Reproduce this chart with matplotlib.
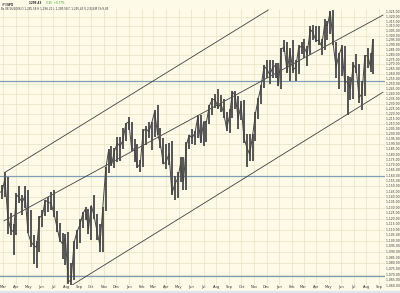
import matplotlib
matplotlib.use('Agg')
import matplotlib.pyplot as plt
import matplotlib.ticker as mticker
import numpy as np
import pandas as pd

# weekly bars (week ending, high, low, close)
weeks = ['2004-02-20', '2004-02-27', '2004-03-05', '2004-03-12', '2004-03-19', '2004-03-26',
         '2004-04-02', '2004-04-09', '2004-04-16', '2004-04-23', '2004-04-30', '2004-05-07',
         '2004-05-14', '2004-05-21', '2004-05-28', '2004-06-04', '2004-06-11', '2004-06-18',
         '2004-06-25', '2004-07-02', '2004-07-09', '2004-07-16', '2004-07-23', '2004-07-30',
         '2004-08-06', '2004-08-13', '2004-08-20', '2004-08-27', '2004-09-03', '2004-09-10',
         '2004-09-17', '2004-09-24', '2004-10-01', '2004-10-08', '2004-10-15', '2004-10-22',
         '2004-10-29', '2004-11-05', '2004-11-12', '2004-11-19', '2004-11-26', '2004-12-03',
         '2004-12-10', '2004-12-17', '2004-12-24', '2004-12-31',
         '2005-01-07', '2005-01-14', '2005-01-21', '2005-01-28', '2005-02-04', '2005-02-11',
         '2005-02-18', '2005-02-25', '2005-03-04', '2005-03-11', '2005-03-18', '2005-03-25',
         '2005-04-01', '2005-04-08', '2005-04-15', '2005-04-22', '2005-04-29', '2005-05-06',
         '2005-05-13', '2005-05-20', '2005-05-27', '2005-06-03', '2005-06-10', '2005-06-17',
         '2005-06-24', '2005-07-01', '2005-07-08', '2005-07-15', '2005-07-22', '2005-07-29',
         '2005-08-05', '2005-08-12', '2005-08-19', '2005-08-26', '2005-09-02', '2005-09-09',
         '2005-09-16', '2005-09-23', '2005-09-30', '2005-10-07', '2005-10-14', '2005-10-21',
         '2005-10-28', '2005-11-04', '2005-11-11', '2005-11-18', '2005-11-25', '2005-12-02',
         '2005-12-09', '2005-12-16', '2005-12-23', '2005-12-30',
         '2006-01-06', '2006-01-13', '2006-01-20', '2006-01-27', '2006-02-03', '2006-02-10',
         '2006-02-17', '2006-02-24', '2006-03-03', '2006-03-10', '2006-03-17', '2006-03-24',
         '2006-03-31', '2006-04-07', '2006-04-14', '2006-04-21', '2006-04-28', '2006-05-05',
         '2006-05-12', '2006-05-19', '2006-05-26', '2006-06-02', '2006-06-09', '2006-06-16',
         '2006-06-23', '2006-06-30', '2006-07-07', '2006-07-14', '2006-07-21', '2006-07-28',
         '2006-08-04', '2006-08-11', '2006-08-16']

highs = [1158, 1151, 1163, 1159, 1125, 1115, 1144, 1150, 1142, 1150, 1146, 1128,
         1105, 1100, 1122, 1128, 1137, 1140, 1145, 1146, 1127, 1116, 1107, 1106,
         1108, 1080, 1100, 1110, 1120, 1126, 1131, 1129, 1132, 1142, 1124, 1115,
         1131, 1168, 1185, 1188, 1186, 1197, 1197, 1206, 1211, 1217,
         1212, 1195, 1190, 1175, 1205, 1208, 1212, 1212, 1224, 1229, 1206, 1196,
         1190, 1191, 1193, 1160, 1163, 1178, 1178, 1192, 1199, 1205, 1203, 1219,
         1219, 1212, 1213, 1229, 1236, 1240, 1245, 1239, 1235, 1222, 1225, 1243,
         1243, 1238, 1233, 1234, 1200, 1200, 1200, 1222, 1236, 1249, 1269, 1274,
         1275, 1275, 1271, 1271,
         1287, 1295, 1293, 1287, 1295, 1275, 1290, 1293, 1297, 1289, 1310, 1311,
         1310, 1310, 1296, 1318, 1316, 1326, 1327, 1293, 1282, 1290, 1289, 1258,
         1257, 1272, 1281, 1270, 1253, 1280, 1287, 1282, 1297]

lows = [1141, 1138, 1140, 1106, 1105, 1087, 1105, 1134, 1123, 1130, 1107, 1094,
        1079, 1076, 1090, 1112, 1122, 1126, 1128, 1121, 1108, 1099, 1084, 1078,
        1062, 1061, 1065, 1093, 1098, 1111, 1119, 1106, 1101, 1120, 1101, 1090,
        1090, 1127, 1162, 1169, 1167, 1173, 1174, 1185, 1193, 1204,
        1183, 1173, 1167, 1163, 1168, 1189, 1196, 1184, 1197, 1199, 1186, 1171,
        1166, 1170, 1142, 1137, 1139, 1154, 1146, 1146, 1185, 1190, 1189, 1196,
        1191, 1188, 1192, 1210, 1219, 1226, 1225, 1222, 1216, 1203, 1201, 1216,
        1225, 1205, 1214, 1191, 1168, 1174, 1174, 1193, 1215, 1230, 1246, 1256,
        1250, 1256, 1256, 1248,
        1245, 1283, 1261, 1253, 1261, 1253, 1260, 1281, 1277, 1268, 1280, 1295,
        1293, 1290, 1280, 1285, 1295, 1302, 1290, 1256, 1245, 1258, 1242, 1219,
        1234, 1235, 1261, 1231, 1224, 1238, 1266, 1262, 1260]

closes = [1144, 1145, 1157, 1121, 1110, 1108, 1142, 1139, 1135, 1141, 1107, 1099,
          1096, 1094, 1121, 1123, 1137, 1135, 1134, 1125, 1113, 1101, 1097, 1102,
          1064, 1065, 1098, 1108, 1114, 1124, 1129, 1110, 1132, 1122, 1108, 1096,
          1130, 1166, 1184, 1170, 1183, 1191, 1188, 1194, 1210, 1212,
          1186, 1185, 1168, 1171, 1203, 1205, 1202, 1211, 1222, 1200, 1190, 1171,
          1173, 1181, 1143, 1152, 1157, 1171, 1154, 1189, 1199, 1196, 1201, 1217,
          1192, 1212, 1212, 1228, 1234, 1234, 1226, 1230, 1220, 1205, 1218, 1242,
          1238, 1215, 1229, 1196, 1187, 1180, 1198, 1220, 1235, 1248, 1268, 1265,
          1259, 1267, 1269, 1248,
          1286, 1288, 1262, 1284, 1264, 1267, 1287, 1289, 1287, 1281, 1307, 1303,
          1295, 1295, 1289, 1311, 1311, 1326, 1291, 1267, 1280, 1288, 1252, 1252,
          1245, 1270, 1265, 1236, 1240, 1279, 1279, 1267, 1295]

# horizontal support / resistance levels
levels = [1253, 1160, 1069]

# channel lines: two anchor points each (date, price)
channels = [
    (['2004-03-05', '2005-12-05'], [1163, 1327.5]),
    (['2004-03-03', '2006-09-10'], [1118, 1322]),
    (['2004-08-11', '2006-09-10'], [1060, 1241.5]),
]

month_names = ['Jan', 'Feb', 'Mar', 'Apr', 'May', 'Jun', 'Jul', 'Aug', 'Sep', 'Oct', 'Nov', 'Dec']
price_ticks = np.arange(1060, 1326, 5)

bg = '#fdfbe8'
grid_c = '#e6e2c4'
ylo, yhi = 1061, 1328.6

dates = pd.to_datetime(weeks)
x0 = pd.Timestamp('2004-02-22')
x1 = pd.Timestamp('2006-09-15')

fig = plt.figure(figsize=(4.0, 2.93), dpi=100)
fig.patch.set_facecolor(bg)
ax = fig.add_axes([0.0, 1 - 285 / 293, 385 / 400, 276 / 293])
ax.set_facecolor(bg)
ax.set_yscale('log')

# grid
months = pd.date_range('2004-03-01', '2006-09-01', freq='MS')
for m in months:
    ax.axvline(m, color=grid_c, lw=0.5, zorder=0)
for p in np.arange(1060, 1330, 10):
    ax.axhline(p, color=grid_c, lw=0.5, zorder=0)

for lv in levels:
    ax.axhline(lv, color='#7f9db4', lw=0.9, zorder=1)

for d, p in channels:
    ax.plot(pd.to_datetime(d), p, color='#404040', lw=0.6, zorder=2)

ax.vlines(dates, lows, highs, color='#555555', lw=1.4, zorder=3)
ax.plot(dates, closes, color='#444444', lw=0.7, zorder=3)

ax.set_xlim(x0, x1)
ax.set_ylim(ylo, yhi)
ax.xaxis.set_major_locator(mticker.NullLocator())
ax.yaxis.set_major_locator(mticker.NullLocator())
ax.yaxis.set_minor_locator(mticker.NullLocator())
for s in ax.spines.values():
    s.set_visible(False)

# month labels under the plot
for m in months:
    ax.text(m, ylo, month_names[m.month - 1], fontsize=2.6, color='#333333',
            ha='center', va='top', clip_on=False)
# price labels on the right
for p in price_ticks:
    ax.text(x1, p, f' {p:,.2f}', fontsize=2.2, color='#333333',
            ha='left', va='center', clip_on=False)

# header
fig.text(1 / 400, 1 - 0.5 / 293, '$SPX $SPX', fontsize=2.0, fontweight='bold',
         color='#222222', ha='left', va='top')
fig.text(29 / 400, 1 - 0.5 / 293, '1,295.43', fontsize=2.0, fontweight='bold',
         color='#222222', ha='left', va='top')
fig.text(46 / 400, 1 - 0.5 / 293, '9.85  +0.77%', fontsize=2.0, color='#2fae2f',
         ha='left', va='top')
fig.text(1 / 400, 1 - 6.5 / 293,
         'Bs 08/16/2006 O 1,285.58 H 1,296.21 L 1,285.58 C 1,295.43 V 2,554M Ch 9.85',
         fontsize=2.0, color='#333333', ha='left', va='top')

# scrollbar strip at bottom
fig.patches.append(plt.Rectangle((0, 0), 1, 2 / 293, transform=fig.transFigure,
                                 color='#dfe6ee', zorder=0))

fig.savefig('out.png', dpi=100, facecolor=bg)
